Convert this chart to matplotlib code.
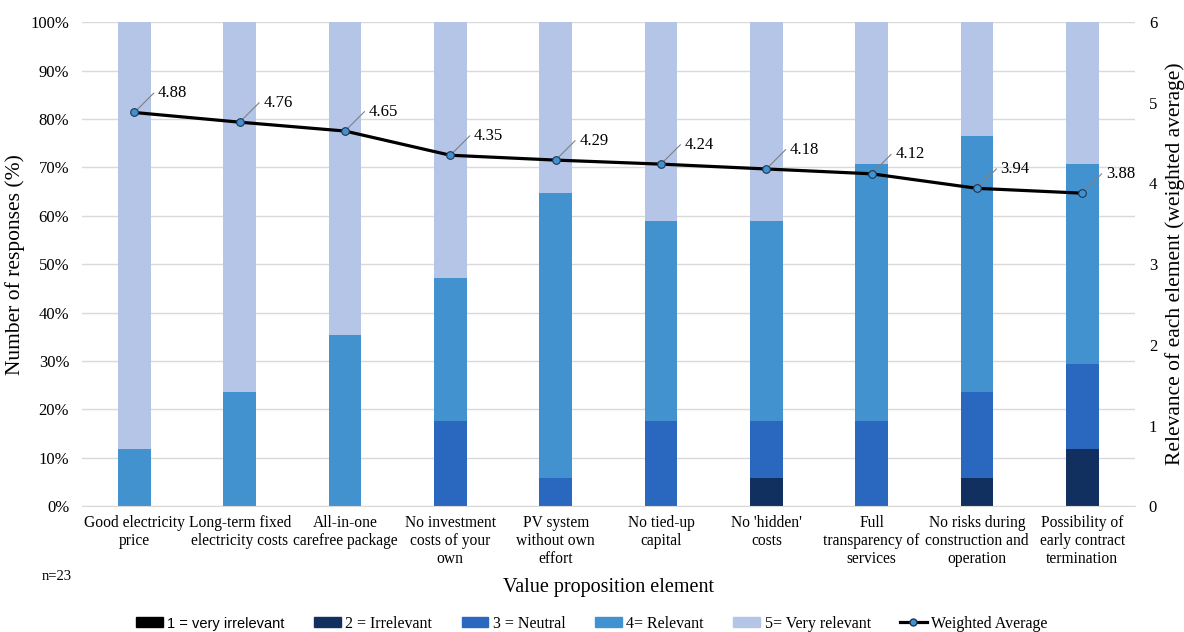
import numpy as np
import matplotlib.pyplot as plt
from matplotlib.lines import Line2D
from matplotlib.patches import Patch

plt.rcParams['font.family'] = ['Liberation Serif', 'DejaVu Serif']

categories = [
    "Good electricity\nprice",
    "Long-term fixed\nelectricity costs",
    "All-in-one\ncarefree package",
    "No investment\ncosts of your\nown",
    "PV system\nwithout own\neffort",
    "No tied-up\ncapital",
    "No 'hidden'\ncosts",
    "Full\ntransparency of\nservices",
    "No risks during\nconstruction and\noperation",
    "Possibility of\nearly contract\ntermination",
]

# share of responses per rating (%)
very_irrelevant = [0, 0, 0, 0, 0, 0, 0, 0, 0, 0]
irrelevant = [0, 0, 0, 0, 0, 0, 5.88, 0, 5.88, 11.76]
neutral = [0, 0, 0, 17.65, 5.88, 17.65, 11.76, 17.65, 17.65, 17.65]
relevant = [11.76, 23.53, 35.29, 29.41, 58.82, 41.18, 41.18, 52.94, 52.94, 41.18]
very_relevant = [88.24, 76.47, 64.71, 52.94, 35.29, 41.18, 41.18, 29.41, 23.53, 29.41]

weighted_avg = [4.88, 4.76, 4.65, 4.35, 4.29, 4.24, 4.18, 4.12, 3.94, 3.88]

series = [
    ("1 = very irrelevant", very_irrelevant, "#000000"),
    ("2 = Irrelevant", irrelevant, "#12305f"),
    ("3 = Neutral", neutral, "#2a67bf"),
    ("4= Relevant", relevant, "#4292cf"),
    ("5= Very relevant", very_relevant, "#b4c5e7"),
]

fig = plt.figure(figsize=(11.84, 6.32), dpi=100)
ax = fig.add_axes([0.069, 0.199, 0.8896, 0.766])
x = np.arange(len(categories))

bottom = np.zeros(len(categories))
for name, vals, col in series:
    ax.bar(x, vals, width=0.31, bottom=bottom, color=col, zorder=2)
    bottom += np.array(vals)

ax.set_ylim(0, 100)
ax.set_xlim(-0.5, len(categories) - 0.5)
ax.set_yticks(np.arange(0, 101, 10))
ax.set_yticklabels([f"{v}%" for v in range(0, 101, 10)], fontsize=12)
ax.yaxis.grid(True, color="#d9d9d9", lw=1, zorder=0)
ax.set_xticks(x)
ax.set_xticklabels(categories, fontsize=11.2, linespacing=1.2)
ax.tick_params(axis="both", length=0)
ax.tick_params(axis="y", pad=9)
ax.tick_params(axis="x", pad=6)
for s in ["top", "right", "left"]:
    ax.spines[s].set_visible(False)
ax.spines["bottom"].set_color("#d9d9d9")
ax.set_ylabel("Number of responses (%)", fontsize=15.5, labelpad=4)
ax.set_xlabel("Value proposition element", fontsize=14.5, labelpad=8)

ax2 = ax.twinx()
ax2.set_ylim(0, 6)
ax2.set_yticks(range(0, 7))
ax2.tick_params(axis="y", length=0, labelsize=12, pad=10)
for s in ax2.spines.values():
    s.set_visible(False)
ax2.set_ylabel("Relevance of each element (weighted average)", fontsize=15.5, labelpad=6)

ax2.plot(x, weighted_avg, color="black", lw=2.3, marker="o", ms=5.5,
         mfc="#4292cf", mec="#1f3550", mew=0.8, zorder=5)
for xi, v in zip(x, weighted_avg):
    ax2.annotate(f"{v:.2f}", xy=(xi, v), xytext=(17, 14), textcoords="offset points",
                 fontsize=12, va="center", ha="left",
                 arrowprops=dict(arrowstyle="-", color="#808080", lw=0.8,
                                 shrinkA=1, shrinkB=3,
                                 connectionstyle="angle,angleA=0,angleB=45,rad=0"))

fig.text(0.035, 0.083, "n=23", fontsize=10.5)

handles = [Patch(color=col, label=name) for name, vals, col in series]
handles.append(Line2D([0], [0], color="black", lw=2.3, marker="o", ms=5,
                      mfc="#4292cf", mec="#1f3550", label="Weighted Average"))
leg = fig.legend(handles=handles, loc="lower center", bbox_to_anchor=(0.5, -0.022),
                 ncol=6, frameon=False, fontsize=11.5, handlelength=1.65,
                 handleheight=0.55, columnspacing=1.85, handletextpad=0.3)
leg.get_texts()[0].set_family(['Liberation Sans', 'DejaVu Sans'])
leg.get_texts()[0].set_fontsize(10.5)

fig.savefig("out.png", dpi=100)
